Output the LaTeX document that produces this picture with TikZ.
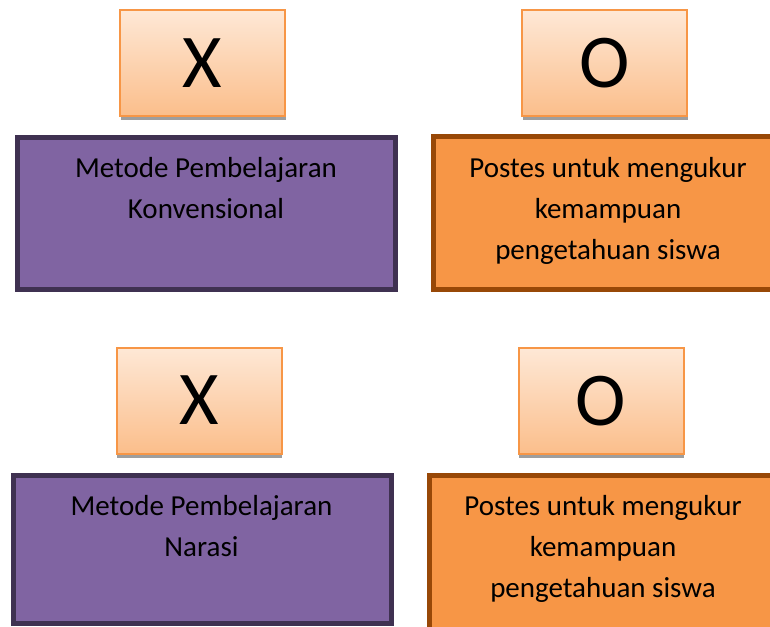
\documentclass[tikz,border=0pt]{standalone}
\usepackage{fontspec}
\setmainfont{Carlito}
\usetikzlibrary{shadows}
\definecolor{pfill}{HTML}{8064A2}
\definecolor{pline}{HTML}{3F3151}
\definecolor{ofill}{HTML}{F79646}
\definecolor{oline}{HTML}{984807}
\definecolor{gtop}{HTML}{FEE8D6}
\definecolor{gbot}{HTML}{FBBE8B}
\definecolor{sline}{HTML}{F79646}
\tikzset{
  smallbox/.style={rectangle, draw=sline, line width=2pt, top color=gtop, bottom color=gbot,
    minimum width=165pt, minimum height=106pt, inner sep=0pt,
    font=\fontsize{76}{80}\selectfont,
    drop shadow={shadow xshift=0.5pt, shadow yshift=-4pt, fill=black!38, opacity=1}},
  purplebox/.style={rectangle, draw=pline, fill=pfill, line width=5pt, inner sep=0pt},
  orangebox/.style={rectangle, draw=oline, fill=ofill, line width=5pt, inner sep=0pt},
  boxtext/.style={anchor=base, align=center, inner sep=0pt, font=\fontsize{29}{41}\selectfont}
}
\begin{document}
\begin{tikzpicture}[x=1pt, y=-1pt]
\useasboundingbox (0,0) rectangle (770,626);
\clip (0,0) rectangle (770,626);
% top row
\node[smallbox] (x1) at (202.5,63) {X};
\node[smallbox] (o1) at (604.5,63) {O};
\node[purplebox, minimum width=378pt, minimum height=152pt] (p1) at (206.5,213.5) {};
\node[orangebox, minimum width=354pt, minimum height=153pt] (q1) at (610.5,213) {};
% anchor=base is the baseline of the last line
\node[boxtext] (t1) at (206,218) {Metode Pembelajaran\\Konvensional};
\node[boxtext] (u1) at (608,259) {Postes untuk mengukur\\kemampuan\\pengetahuan siswa};
% bottom row
\node[smallbox] (x2) at (199,400.5) {X};
\node[smallbox] (o2) at (601,401) {O};
\node[purplebox, minimum width=378pt, minimum height=148pt] (p2) at (202.5,549.5) {};
\node[orangebox, minimum width=358pt, minimum height=162pt] (q2) at (608.5,556.5) {};
\node[boxtext] (t2) at (201.5,556) {Metode Pembelajaran\\Narasi};
\node[boxtext] (u2) at (603,597) {Postes untuk mengukur\\kemampuan\\pengetahuan siswa};
\end{tikzpicture}
\end{document}
